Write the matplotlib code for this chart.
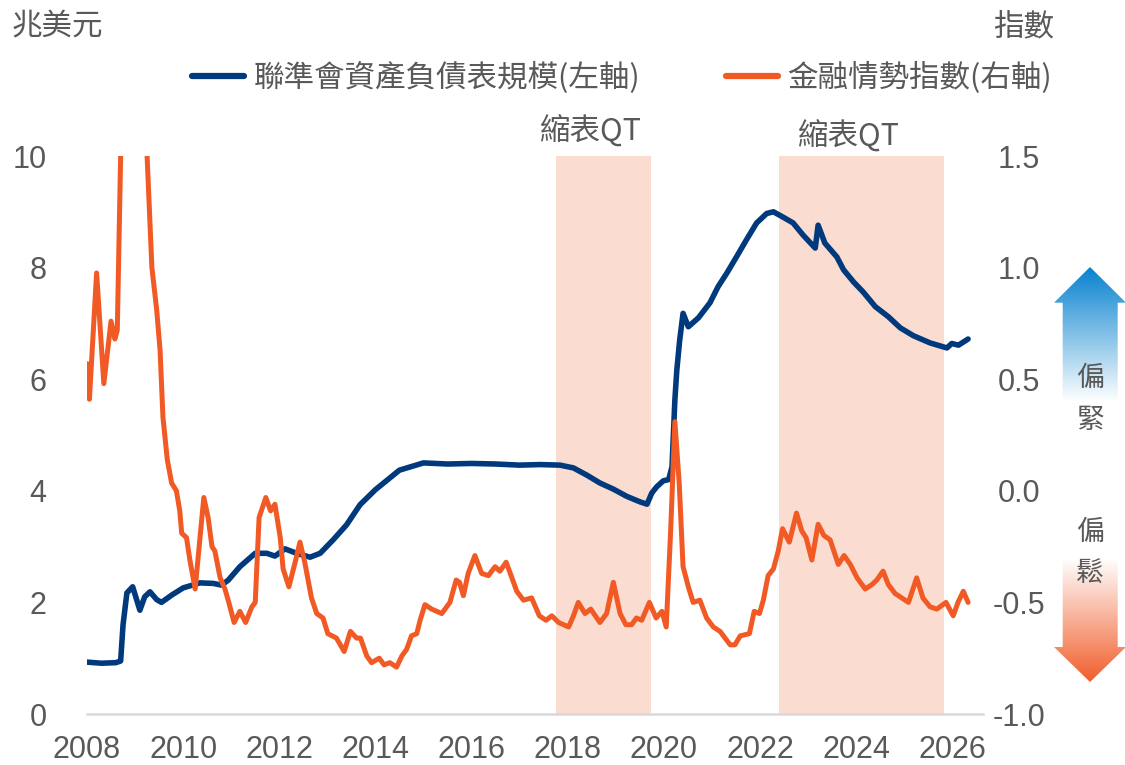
import numpy as np
import matplotlib
matplotlib.use("Agg")
import matplotlib.pyplot as plt
from matplotlib.patches import Polygon
from matplotlib.lines import Line2D
from matplotlib import font_manager

plt.rcParams['font.family'] = ['Noto Sans CJK TC', 'DejaVu Sans']

# ---------------- data ----------------
fed_years = [2008.00, 2008.30, 2008.60, 2008.70, 2008.75, 2008.83, 2008.95, 2009.05, 2009.10, 2009.20,
             2009.31, 2009.45, 2009.55, 2009.76, 2010.00, 2010.35, 2010.63, 2010.80, 2010.94, 2011.18,
             2011.50, 2011.74, 2011.91, 2012.12, 2012.36, 2012.64, 2012.85, 2013.12, 2013.40, 2013.68,
             2014.00, 2014.50, 2015.00, 2015.50, 2016.00, 2016.50, 2017.00, 2017.43, 2017.84, 2018.12,
             2018.40, 2018.67, 2018.95, 2019.23, 2019.51, 2019.65, 2019.75, 2019.85, 2019.99, 2020.10,
             2020.17, 2020.23, 2020.27, 2020.33, 2020.40, 2020.51, 2020.72, 2020.96, 2021.13, 2021.31,
             2021.51, 2021.72, 2021.93, 2022.14, 2022.28, 2022.49, 2022.69, 2022.90, 2023.15, 2023.21,
             2023.35, 2023.60, 2023.74, 2023.95, 2024.15, 2024.40, 2024.67, 2024.92, 2025.19, 2025.54,
             2025.89, 2025.99, 2026.13, 2026.33]
fed_values = [0.93, 0.91, 0.92, 0.95, 1.60, 2.17, 2.28, 2.00, 1.86, 2.10,
              2.19, 2.05, 2.00, 2.13, 2.26, 2.35, 2.34, 2.31, 2.40, 2.64,
              2.88, 2.88, 2.83, 2.96, 2.88, 2.81, 2.88, 3.12, 3.39, 3.75,
              4.02, 4.37, 4.50, 4.48, 4.49, 4.48, 4.46, 4.47, 4.46, 4.41,
              4.28, 4.14, 4.03, 3.90, 3.80, 3.76, 3.96, 4.07, 4.18, 4.20,
              4.43, 5.63, 6.16, 6.70, 7.18, 6.94, 7.10, 7.37, 7.66, 7.90,
              8.19, 8.50, 8.80, 8.97, 9.00, 8.90, 8.80, 8.58, 8.35, 8.76,
              8.44, 8.19, 7.96, 7.74, 7.56, 7.30, 7.12, 6.92, 6.78, 6.65,
              6.56, 6.64, 6.61, 6.72]

fci_years = [2008.00, 2008.05, 2008.20, 2008.35, 2008.50, 2008.58, 2008.63, 2008.70, 2008.80, 2008.92,
             2009.05, 2009.15, 2009.25, 2009.35, 2009.45, 2009.52, 2009.58, 2009.67, 2009.76, 2009.86,
             2009.93, 2009.97, 2010.07, 2010.14, 2010.25, 2010.43, 2010.52, 2010.60, 2010.66, 2010.77,
             2010.87, 2010.95, 2011.06, 2011.18, 2011.30, 2011.43, 2011.50, 2011.58, 2011.72, 2011.82,
             2011.91, 2012.02, 2012.08, 2012.20, 2012.33, 2012.43, 2012.53, 2012.67, 2012.78, 2012.91,
             2013.01, 2013.19, 2013.35, 2013.48, 2013.61, 2013.69, 2013.82, 2013.92, 2014.08, 2014.18,
             2014.30, 2014.44, 2014.55, 2014.65, 2014.75, 2014.86, 2014.93, 2015.03, 2015.17, 2015.38,
             2015.55, 2015.68, 2015.75, 2015.83, 2015.93, 2016.07, 2016.21, 2016.35, 2016.49, 2016.59,
             2016.72, 2016.84, 2016.94, 2017.08, 2017.25, 2017.41, 2017.55, 2017.67, 2017.81, 2018.02,
             2018.12, 2018.22, 2018.36, 2018.48, 2018.67, 2018.81, 2018.95, 2019.09, 2019.21, 2019.33,
             2019.43, 2019.54, 2019.70, 2019.84, 2019.96, 2020.05, 2020.14, 2020.23, 2020.32, 2020.40,
             2020.51, 2020.61, 2020.75, 2020.89, 2021.03, 2021.17, 2021.38, 2021.48, 2021.59, 2021.78,
             2021.88, 2021.99, 2022.07, 2022.17, 2022.28, 2022.38, 2022.47, 2022.61, 2022.76, 2022.87,
             2022.96, 2023.08, 2023.21, 2023.33, 2023.46, 2023.63, 2023.75, 2023.88, 2024.02, 2024.19,
             2024.33, 2024.43, 2024.56, 2024.67, 2024.81, 2024.95, 2025.09, 2025.26, 2025.39, 2025.54,
             2025.68, 2025.87, 2026.02, 2026.12, 2026.23, 2026.33]
fci_values = [0.57, 0.41, 0.976, 0.48, 0.76, 0.68, 0.72, 1.50, 2.40, 2.90,
              2.90, 2.20, 1.50, 1.00, 0.81, 0.63, 0.33, 0.14, 0.035, 0.00,
              -0.09, -0.19, -0.21, -0.31, -0.44, -0.03, -0.12, -0.25, -0.27, -0.39,
              -0.44, -0.50, -0.59, -0.54, -0.59, -0.52, -0.50, -0.12, -0.03, -0.09,
              -0.06, -0.21, -0.35, -0.43, -0.32, -0.23, -0.32, -0.48, -0.55, -0.57,
              -0.64, -0.66, -0.72, -0.63, -0.66, -0.66, -0.74, -0.77, -0.75, -0.78,
              -0.77, -0.79, -0.74, -0.71, -0.65, -0.64, -0.58, -0.51, -0.53, -0.55,
              -0.50, -0.40, -0.41, -0.47, -0.37, -0.29, -0.37, -0.38, -0.34, -0.36,
              -0.32, -0.39, -0.45, -0.49, -0.48, -0.56, -0.58, -0.56, -0.59, -0.61,
              -0.56, -0.50, -0.55, -0.53, -0.59, -0.55, -0.41, -0.55, -0.60, -0.60,
              -0.57, -0.58, -0.50, -0.57, -0.54, -0.61, -0.19, 0.31, 0.035, -0.34,
              -0.43, -0.50, -0.49, -0.57, -0.61, -0.63, -0.69, -0.69, -0.65, -0.64,
              -0.54, -0.55, -0.49, -0.38, -0.35, -0.27, -0.17, -0.23, -0.10, -0.18,
              -0.21, -0.31, -0.15, -0.20, -0.22, -0.33, -0.29, -0.33, -0.39, -0.44,
              -0.42, -0.40, -0.36, -0.42, -0.46, -0.48, -0.50, -0.39, -0.48, -0.52,
              -0.53, -0.50, -0.56, -0.50, -0.45, -0.50]

qt_periods = [(2017.76, 2019.73), (2022.40, 2025.83)]
qt_label = "縮表QT"
x_ticks = list(range(2008, 2027, 2))
left_ticks = [0, 2, 4, 6, 8, 10]
right_ticks = [-1.0, -0.5, 0.0, 0.5, 1.0, 1.5]
fed_label = "聯準會資產負債表規模(左軸)"
fci_label = "金融情勢指數(右軸)"

# ---------------- style ----------------
W, H = 1125, 765
BLUE = "#003A7D"
ORANGE = "#F15A24"
SHADE = "#FADCD1"
GRAY = "#595959"
FS = 22

available = {f.name for f in font_manager.fontManager.ttflist}
num_font = "Liberation Sans" if "Liberation Sans" in available else "DejaVu Sans"
year_font = "Liberation Sans Narrow" if "Liberation Sans Narrow" in available else num_font


def fx(x):
    return x / W


def fy(y):
    return 1 - y / H


fig = plt.figure(figsize=(W / 100, H / 100), dpi=100)
ax = fig.add_axes([fx(87), fy(714), 896 / W, 558 / H])
ax2 = ax.twinx()

for a, b in qt_periods:
    ax.axvspan(a, b, color=SHADE, lw=0, zorder=0)

ax.plot(fed_years, fed_values, color=BLUE, lw=4.0, solid_joinstyle="round",
        solid_capstyle="round", zorder=3)
ax2.plot(fci_years, fci_values, color=ORANGE, lw=3.6, solid_joinstyle="round",
         solid_capstyle="round", zorder=3)

ax.set_xlim(2008, 2026.64)
ax.set_ylim(0, 10)
ax2.set_ylim(-1.0, 1.5)

for a_ in (ax, ax2):
    for s in a_.spines.values():
        s.set_visible(False)
ax.spines["bottom"].set_visible(True)
ax.spines["bottom"].set_color("#D9D9D9")
ax.spines["bottom"].set_linewidth(1.8)

ax.set_xticks(x_ticks)
ax.set_xticklabels([str(t) for t in x_ticks], fontsize=FS, color=GRAY, family=year_font)
ax.tick_params(axis="x", length=0, pad=15)

ax.set_yticks(left_ticks)
ax.set_yticklabels([str(t) for t in left_ticks], fontsize=FS, color=GRAY, family=num_font)
ax.tick_params(axis="y", length=0, pad=29)

ax2.set_yticks(right_ticks)
ax2.set_yticklabels([f"{t:.1f}" for t in right_ticks], fontsize=FS, color=GRAY, family=num_font)
ax2.tick_params(axis="y", length=0, pad=26)
for lab in ax2.get_yticklabels():
    lab.set_horizontalalignment("center")

# axis unit labels
fig.text(fx(12), fy(27), "兆美元", fontsize=FS, color=GRAY, ha="left", va="center")
fig.text(fx(1054), fy(27), "指數", fontsize=FS, color=GRAY, ha="right", va="center")

# QT labels
fig.text(fx(590), fy(130), qt_label, fontsize=FS, color=GRAY, ha="center", va="center")
fig.text(fx(848), fy(135), qt_label, fontsize=FS, color=GRAY, ha="center", va="center")

# legend
handles = [Line2D([0], [0], color=BLUE, lw=4.5, solid_capstyle="round"),
           Line2D([0], [0], color=ORANGE, lw=4.5, solid_capstyle="round")]
leg = fig.legend(handles, [fed_label, fci_label], loc="center",
                 bbox_to_anchor=(fx(622), fy(78)), ncol=2, frameon=False,
                 fontsize=FS, handlelength=1.7, handletextpad=0.3, columnspacing=2.8,
                 borderpad=0, borderaxespad=0)
for t in leg.get_texts():
    t.set_color(GRAY)

# gradient arrows on the right
ov = fig.add_axes([0, 0, 1, 1], zorder=5)
ov.set_xlim(0, W)
ov.set_ylim(H, 0)
ov.axis("off")
ov.patch.set_alpha(0)


def gradient(c_top, c_bot, n=256):
    c1 = np.array(matplotlib.colors.to_rgb(c_top))
    c2 = np.array(matplotlib.colors.to_rgb(c_bot))
    t = np.linspace(0, 1, n)[:, None]
    return (c1 * (1 - t) + c2 * t)[:, None, :]


# blue (up)
blue_poly = [(1062.7, 400), (1062.7, 302.7), (1054, 302.7), (1090, 267),
             (1126, 302.7), (1117.7, 302.7), (1117.7, 400)]
p1 = Polygon(blue_poly, closed=True, facecolor="none", edgecolor="none")
ov.add_patch(p1)
im1 = ov.imshow(gradient("#0782CF", "#FFFFFF"), extent=(1050, 1127, 402, 267),
                origin="upper", aspect="auto", interpolation="bilinear", zorder=1)
im1.set_clip_path(p1)

# orange (down)
orange_poly = [(1062.7, 560), (1062.7, 647), (1054, 647), (1090, 682),
               (1126, 647), (1117.7, 647), (1117.7, 560)]
p2 = Polygon(orange_poly, closed=True, facecolor="none", edgecolor="none")
ov.add_patch(p2)
im2 = ov.imshow(gradient("#FFFFFF", "#F05E2C"), extent=(1050, 1127, 682, 558),
                origin="upper", aspect="auto", interpolation="bilinear", zorder=1)
im2.set_clip_path(p2)

for txt, yy in [("偏", 378), ("緊", 420), ("偏", 532), ("鬆", 573)]:
    ov.text(1090, yy, txt, fontsize=20, color=GRAY, ha="center", va="center", zorder=3)

fig.savefig("out.png", dpi=100)
